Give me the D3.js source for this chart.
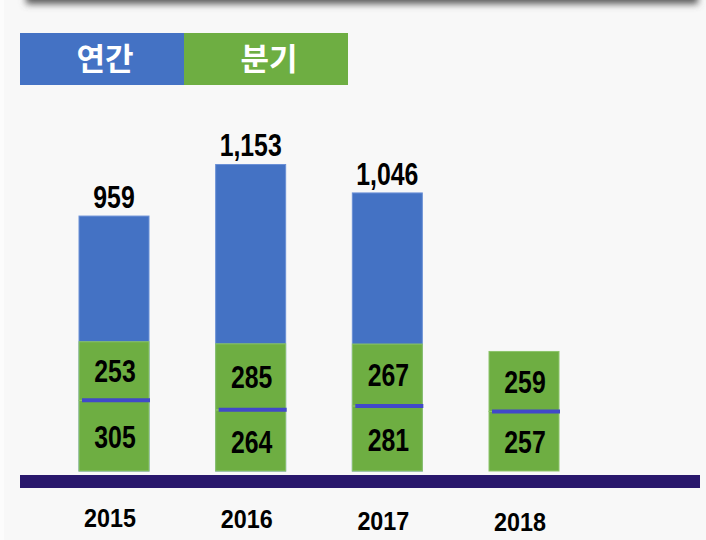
<!DOCTYPE html>
<html lang="ko">
<head>
<meta charset="UTF-8">
<title>연간 / 분기</title>
<script src="https://cdn.jsdelivr.net/npm/d3@7"></script>
<style>
    body { margin: 0; background: #f8f8f8; }
    svg { display: block; }
</style>
</head>
<body>
<script>
    // data
    let years = ["2015", "2016", "2017", "2018"]
    let annual = [959, 1153, 1046, null]      // 연간
    let quarterLow = [305, 264, 281, 257]     // 분기 (lower segment)
    let quarterHigh = [253, 285, 267, 259]    // 분기 (upper segment)
    let legendNames = ["연간", "분기"]
    let legendColors = ["#4472c4", "#6eae42"]

    const W = 706, H = 540
    const base = 471

    let svg = d3.select('body').append('svg')
        .attr('width', W)
        .attr('height', H)

    // background + top card shadow
    svg.append('rect').attr('width', W).attr('height', H).attr('fill', '#f8f8f8')
    svg.append('rect').attr('width', 4).attr('height', H).attr('fill', '#fcfcfc')
    let defs = svg.append('defs')
    defs.append('filter').attr('id', 'blur')
        .attr('x', '-10%').attr('y', '-100%').attr('width', '120%').attr('height', '300%')
        .append('feGaussianBlur').attr('stdDeviation', 3.5)
    svg.append('rect')
        .attr('x', 26).attr('y', -30).attr('width', 672).attr('height', 34)
        .attr('fill', '#5a5a5a')
        .attr('filter', 'url(#blur)')
    svg.append('rect')
        .attr('x', 20).attr('y', -40).attr('width', 690).attr('height', 38)
        .attr('fill', '#f8f8f8')

    // condensed bold text (no narrow font installed, so squeeze it)
    let boldText = function (sel, size, sx) {
        sel.attr('text-anchor', 'middle')
            .attr('transform', function () {
                let t = d3.select(this)
                return 'translate(' + t.attr('x') + ',0) scale(' + sx + ',1)'
            })
            .attr('x', 0)
            .style('font-family', '"Liberation Sans", Arial, sans-serif')
            .style('font-weight', 700)
            .style('font-size', size + 'px')
    }

    // legend boxes
    let lx = d3.scaleBand().domain(legendNames).range([20, 348])
    let leg = svg.selectAll('g.leg').data(legendNames).enter().append('g').attr('class', 'leg')
    leg.append('rect')
        .attr('x', d => lx(d))
        .attr('y', 33)
        .attr('width', lx.bandwidth())
        .attr('height', 52)
        .attr('fill', (d, i) => legendColors[i])
    leg.append('text')
        .attr('x', d => lx(d) + lx.bandwidth() / 2 + 3)
        .attr('y', 59)
        .attr('dy', '0.36em')
        .attr('text-anchor', 'middle')
        .attr('fill', 'white')
        .style('font-family', '"Noto Sans CJK KR", sans-serif')
        .style('font-weight', 700)
        .style('font-size', '31px')
        .text(d => d)

    // scales
    let x = d3.scalePoint().domain(years).range([114, 524])
    let yA = d3.scaleLinear().domain([0, 1200]).range([base, base - 319])
    let yQ = d3.scaleLinear().domain([0, 600]).range([base, base - 139])
    const bw = 70

    // annual bars
    let rows = years.map((y, i) => ({year: y, annual: annual[i], lo: quarterLow[i], hi: quarterHigh[i]}))
    let withAnnual = rows.filter(d => d.annual != null)

    svg.selectAll('rect.annual').data(withAnnual).enter().append('rect')
        .attr('class', 'annual')
        .attr('x', d => x(d.year) - bw / 2)
        .attr('y', d => yA(d.annual))
        .attr('width', bw)
        .attr('height', d => base - yA(d.annual))
        .attr('fill', '#4472c4')
        .attr('stroke', '#6b90d6')
        .attr('stroke-width', 1)

    svg.selectAll('text.annual').data(withAnnual).enter().append('text')
        .attr('class', 'annual')
        .attr('x', d => x(d.year))
        .attr('y', d => yA(d.annual) - 8)
        .call(boldText, 31, 0.8)
        .text(d => d3.format(',')(d.annual))

    // quarter segments
    svg.selectAll('rect.qlo').data(rows).enter().append('rect')
        .attr('class', 'qlo')
        .attr('x', d => x(d.year) - bw / 2)
        .attr('y', d => yQ(d.lo))
        .attr('width', bw)
        .attr('height', d => base - yQ(d.lo))
        .attr('fill', '#6eae42')
        .attr('stroke', '#8cc46a')
        .attr('stroke-width', 1)

    svg.selectAll('rect.qhi').data(rows).enter().append('rect')
        .attr('class', 'qhi')
        .attr('x', d => x(d.year) - bw / 2)
        .attr('y', d => yQ(d.lo + d.hi))
        .attr('width', bw)
        .attr('height', d => yQ(d.lo) - yQ(d.lo + d.hi))
        .attr('fill', '#6eae42')
        .attr('stroke', '#8cc46a')
        .attr('stroke-width', 1)

    // separator line between quarters
    svg.selectAll('line.sep').data(rows).enter().append('line')
        .attr('class', 'sep')
        .attr('x1', d => x(d.year) - bw / 2 + 3)
        .attr('x2', d => x(d.year) + bw / 2 + 1)
        .attr('y1', d => yQ(d.lo))
        .attr('y2', d => yQ(d.lo))
        .attr('stroke', '#4149c9')
        .attr('stroke-width', 4)

    svg.selectAll('text.qlo').data(rows).enter().append('text')
        .attr('class', 'qlo')
        .attr('x', d => x(d.year) + 1)
        .attr('y', d => (base + yQ(d.lo)) / 2 + 1)
        .attr('dy', '0.36em')
        .call(boldText, 31, 0.8)
        .text(d => d.lo)
    svg.selectAll('text.qhi').data(rows).enter().append('text')
        .attr('class', 'qhi')
        .attr('x', d => x(d.year) + 1)
        .attr('y', d => (yQ(d.lo) + yQ(d.lo + d.hi)) / 2)
        .attr('dy', '0.36em')
        .call(boldText, 31, 0.8)
        .text(d => d.hi)

    // baseline band
    svg.append('rect')
        .attr('x', 20).attr('y', 475)
        .attr('width', 680).attr('height', 13)
        .attr('fill', '#29186c')

    // year labels
    svg.selectAll('text.year').data(years).enter().append('text')
        .attr('class', 'year')
        .attr('x', d => x(d) - 4)
        .attr('y', (d, i) => 527 + i * 1.5)
        .call(boldText, 26.5, 0.88)
        .text(d => d)
</script>
</body>
</html>
